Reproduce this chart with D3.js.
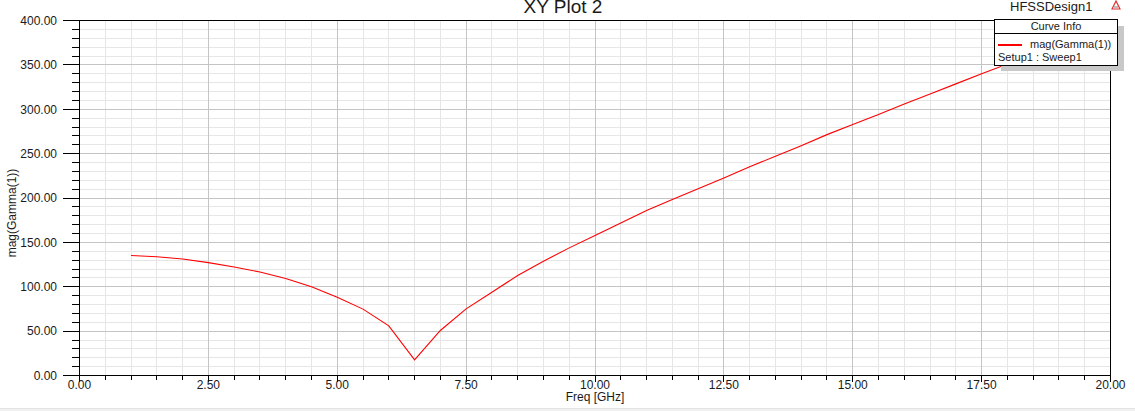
<!DOCTYPE html>
<html>
<head>
<meta charset="utf-8">
<script src="https://cdn.jsdelivr.net/npm/d3@7"></script>
<style>
  html, body { margin: 0; padding: 0; background: #ffffff; }
  svg { display: block; font-family: "Liberation Sans", Arial, sans-serif; }
</style>
</head>
<body>
<svg id="chart" width="1135" height="411"></svg>
<script>
// ---- data ----
const freqGHz = [1, 1.5, 2, 2.5, 3, 3.5, 4, 4.5, 5, 5.5, 6, 6.5, 7, 7.5, 8, 8.5, 9, 9.5,
                 10, 10.5, 11, 11.5, 12, 12.5, 13, 13.5, 14, 14.5, 15, 15.5, 16, 16.5, 17, 17.5, 18];
const magGamma = [135.2, 133.8, 131.2, 127.2, 122.2, 116.6, 109.3, 99.9, 88.3, 74.8, 56.0, 17.7,
                  50.7, 75.1, 93.9, 112.6, 128.8, 143.8, 157.7, 171.8, 185.9, 198.3, 210.3, 222.6,
                  235.2, 247.0, 259.0, 271.4, 282.8, 294.2, 306.0, 317.3, 328.6, 339.9, 351.0];
const xTickValues = [0, 2.5, 5, 7.5, 10, 12.5, 15, 17.5, 20];
const xTickLabels = ["0.00", "2.50", "5.00", "7.50", "10.00", "12.50", "15.00", "17.50", "20.00"];
const yTickValues = [0, 50, 100, 150, 200, 250, 300, 350, 400];
const yTickLabels = ["0.00", "50.00", "100.00", "150.00", "200.00", "250.00", "300.00", "350.00", "400.00"];
const xMinorValues = d3.range(0, 20.001, 0.5);
const yMinorValues = d3.range(0, 400.001, 10);
const seriesName = "mag(Gamma(1))";
const setupName = "Setup1 : Sweep1";

// ---- layout ----
const svg = d3.select("#chart");
const x = d3.scaleLinear().domain([0, 20]).range([79.5, 1110.5]);
const y = d3.scaleLinear().domain([0, 400]).range([375.5, 20.5]);

// bottom band
svg.append("rect").attr("x", 0).attr("y", 408).attr("width", 1135).attr("height", 3).attr("fill", "#f0f0f0");
svg.append("line").attr("x1", 0).attr("x2", 1135).attr("y1", 408.5).attr("y2", 408.5).attr("stroke", "#e3e3e3");

// grid
const grid = svg.append("g").attr("shape-rendering", "crispEdges");
grid.selectAll("line.vminor").data(xMinorValues).join("line")
  .attr("x1", d => x(d)).attr("x2", d => x(d)).attr("y1", y(400)).attr("y2", y(0))
  .attr("stroke", "#e6e6e6");
grid.selectAll("line.hminor").data(yMinorValues).join("line")
  .attr("y1", d => y(d)).attr("y2", d => y(d)).attr("x1", x(0)).attr("x2", x(20))
  .attr("stroke", "#e6e6e6");
grid.selectAll("line.vmajor").data(xTickValues).join("line")
  .attr("x1", d => x(d)).attr("x2", d => x(d)).attr("y1", y(400)).attr("y2", y(0))
  .attr("stroke", "#c4c4c4");
grid.selectAll("line.hmajor").data(yTickValues).join("line")
  .attr("y1", d => y(d)).attr("y2", d => y(d)).attr("x1", x(0)).attr("x2", x(20))
  .attr("stroke", "#c4c4c4");

// axes (custom drawn)
const ax = svg.append("g").attr("shape-rendering", "crispEdges").attr("stroke", "#000");
ax.selectAll("line.ly").data(yMinorValues).join("line")
  .attr("x1", x(0) - 8).attr("x2", x(0)).attr("y1", d => y(d)).attr("y2", d => y(d));
ax.selectAll("line.lyM").data(yTickValues).join("line")
  .attr("x1", x(0) - 17).attr("x2", x(0)).attr("y1", d => y(d)).attr("y2", d => y(d));
ax.selectAll("line.bx").data(xMinorValues).join("line")
  .attr("x1", d => x(d)).attr("x2", d => x(d)).attr("y1", y(0)).attr("y2", y(0) + 4);
ax.selectAll("line.bxM").data(xTickValues).join("line")
  .attr("x1", d => x(d)).attr("x2", d => x(d)).attr("y1", y(0)).attr("y2", y(0) + 6);
ax.append("line").attr("x1", x(0)).attr("x2", x(0)).attr("y1", y(400)).attr("y2", y(0));
ax.append("line").attr("x1", x(20)).attr("x2", x(20)).attr("y1", y(400)).attr("y2", y(0));
ax.append("line").attr("x1", x(0) - 17).attr("x2", x(20)).attr("y1", y(400)).attr("y2", y(400));
ax.append("line").attr("x1", x(0) - 17).attr("x2", x(20)).attr("y1", y(0)).attr("y2", y(0));

// tick labels
svg.append("g").selectAll("text").data(yTickValues).join("text")
  .attr("x", 57).attr("y", d => y(d)).attr("dy", "0.36em")
  .attr("text-anchor", "end").attr("font-size", 12).attr("fill", "#1a1a1a")
  .text((d, i) => yTickLabels[i]);
svg.append("g").selectAll("text").data(xTickValues).join("text")
  .attr("x", d => x(d)).attr("y", 389)
  .attr("text-anchor", "middle").attr("font-size", 12).attr("fill", "#1a1a1a")
  .text((d, i) => xTickLabels[i]);

// axis titles
svg.append("text").attr("x", 595).attr("y", 401).attr("text-anchor", "middle")
  .attr("font-size", 12).attr("fill", "#1a1a1a").text("Freq [GHz]");
svg.append("text").attr("transform", "translate(16,213) rotate(-90)").attr("text-anchor", "middle")
  .attr("font-size", 12).attr("fill", "#1a1a1a").text(seriesName);

// title
svg.append("text").attr("x", 563).attr("y", 13).attr("text-anchor", "middle")
  .attr("font-size", 19).attr("fill", "#1a1a1a").text("XY Plot 2");
svg.append("text").attr("x", 1010).attr("y", 11)
  .attr("font-size", 13).attr("fill", "#1a1a1a").text("HFSSDesign1");
// small logo
const logo = svg.append("g").attr("transform", "translate(1112,1)");
logo.append("path").attr("d", "M0,8 L4,0 L8,8 Z").attr("fill", "none").attr("stroke", "#e03030").attr("stroke-width", 1.2);
logo.append("path").attr("d", "M2,6 L6,6").attr("stroke", "#909090").attr("stroke-width", 1.2);

// curve
const line = d3.line().x((d, i) => x(freqGHz[i])).y(d => y(d));
svg.append("path").datum(magGamma).attr("d", line)
  .attr("fill", "none").attr("stroke", "#ff0000").attr("stroke-width", 1.1);

// legend
const lg = svg.append("g").attr("shape-rendering", "crispEdges");
lg.append("rect").attr("x", 1000.5).attr("y", 25.5).attr("width", 123).attr("height", 45).attr("fill", "#c8c8c8");
lg.append("rect").attr("x", 994.5).attr("y", 19.5).attr("width", 123).attr("height", 46)
  .attr("fill", "#ffffff").attr("stroke", "#000");
lg.append("line").attr("x1", 994.5).attr("x2", 1117.5).attr("y1", 33.5).attr("y2", 33.5).attr("stroke", "#000");
svg.append("text").attr("x", 1056).attr("y", 30).attr("text-anchor", "middle")
  .attr("font-size", 11).attr("fill", "#1a1a1a").text("Curve Info");
lg.append("line").attr("x1", 998).attr("x2", 1022).attr("y1", 44.5).attr("y2", 44.5)
  .attr("stroke", "#ff0000").attr("stroke-width", 2);
svg.append("text").attr("x", 1030).attr("y", 48)
  .attr("font-size", 11).attr("fill", "#1a1a1a").text(seriesName);
svg.append("text").attr("x", 998).attr("y", 61)
  .attr("font-size", 11).attr("fill", "#1a1a1a").text(setupName);
</script>
</body>
</html>
